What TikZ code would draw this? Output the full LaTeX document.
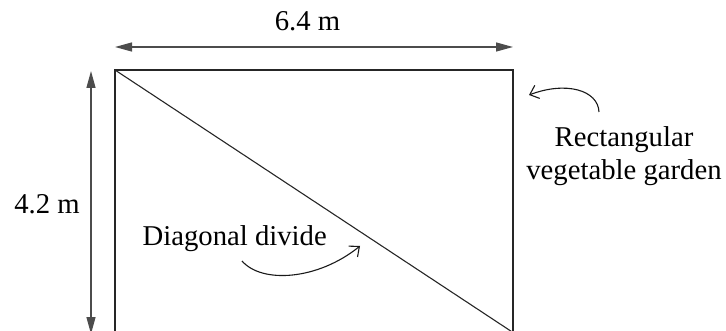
\documentclass[tikz,border=0pt]{standalone}
\usepackage{fontspec}
\setmainfont{Liberation Serif}
\usetikzlibrary{arrows.meta}
\begin{document}
\begin{tikzpicture}[x=1pt,y=-1pt,
  lbl/.style={inner sep=0pt, font=\fontsize{28.7}{33}\selectfont},
  dimline/.style={draw=black!70, line width=1.3pt, {Triangle[length=17pt,width=9pt]}-{Triangle[length=17pt,width=9pt]}},
  garden/.style={draw=black!85, line width=1.3pt},
  pointer/.style={draw=black!90, line width=1.1pt, -{Straight Barb[length=8pt,width=14pt,line width=1.1pt]}}]
\useasboundingbox (0,0) rectangle (726,331);
\clip (0,0) rectangle (726,331);
% garden
\coordinate (tl) at (115,70);
\coordinate (tr) at (513,70);
\coordinate (bl) at (115,332.5);
\coordinate (br) at (513,332.5);
\draw[garden] (tl) -- (tr) -- (br) -- (bl) -- cycle;
\draw[garden, line width=1.1pt] (tl) -- (br);
% dimensions
\coordinate (h1) at (115,47);
\coordinate (h2) at (513,47);
\draw[dimline] (h1) -- (h2);
\node[lbl, anchor=base] (w) at (307.5,30.7) {6.4 m};
\coordinate (v1) at (91,71);
\coordinate (v2) at (91,334);
\draw[dimline] (v1) -- (v2);
\node[lbl, anchor=base] (hgt) at (47,214) {4.2 m};
% labels
\node[lbl, anchor=base, align=center] (rg) at (624,180) {Rectangular\\vegetable garden};
\coordinate (rgs) at (599,112);
\coordinate (rge) at (529,95);
\draw[pointer] (rgs) .. controls (598,90) and (566,81) .. (rge);
\node[lbl, anchor=base] (dd) at (234.7,246) {Diagonal divide};
\coordinate (dds) at (242,261);
\coordinate (dde) at (360,246);
\draw[pointer] (dds) .. controls (262,284) and (318,280) .. (dde);
\end{tikzpicture}
\end{document}
